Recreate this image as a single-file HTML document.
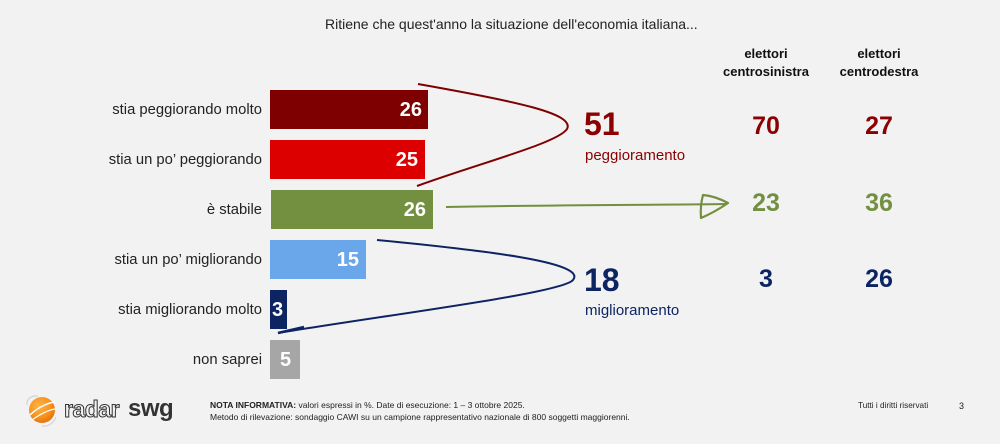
<!DOCTYPE html>
<html>
<head>
<meta charset="utf-8">
<style>
  html,body{margin:0;padding:0;}
  body{width:1000px;height:444px;background:#f2f2f2;position:relative;overflow:hidden;font-family:"Liberation Sans",Arial,sans-serif;color:#222;}
  .abs{position:absolute;}
  .title{left:325px;top:16px;font-size:14px;color:#222;white-space:nowrap;}
  .cat{right:738px;font-size:14.8px;color:#222;white-space:nowrap;line-height:16px;}
  .bar{position:absolute;height:39px;}
  .bl{position:absolute;top:0;height:39px;line-height:40px;color:#fff;font-weight:bold;font-size:20px;}
  .hdr{font-weight:bold;font-size:13px;color:#111;text-align:center;line-height:18px;width:140px;}
  .big{font-weight:bold;font-size:32px;line-height:32px;}
  .sub{font-size:15px;line-height:16px;}
  .num{font-weight:bold;font-size:25px;line-height:26px;width:80px;text-align:center;}
  .foot{font-size:8.5px;color:#222;line-height:12px;white-space:nowrap;}
</style>
</head>
<body>
<div class="abs title">Ritiene che quest'anno la situazione dell'economia italiana...</div>

<!-- category labels -->
<div class="abs cat" style="top:102px;">stia peggiorando molto</div>
<div class="abs cat" style="top:152px;">stia un po’ peggiorando</div>
<div class="abs cat" style="top:202px;">è stabile</div>
<div class="abs cat" style="top:252px;">stia un po’ migliorando</div>
<div class="abs cat" style="top:302px;">stia migliorando molto</div>
<div class="abs cat" style="top:352px;">non saprei</div>

<!-- bars -->
<div class="bar" style="left:270px;top:90px;width:158px;background:#7f0000;"><span class="bl" style="right:6px;">26</span></div>
<div class="bar" style="left:270px;top:140px;width:155px;background:#dd0000;"><span class="bl" style="right:7px;">25</span></div>
<div class="bar" style="left:271px;top:190px;width:162px;background:#739040;"><span class="bl" style="right:7px;">26</span></div>
<div class="bar" style="left:270px;top:240px;width:96px;background:#6aa6ea;"><span class="bl" style="right:7px;">15</span></div>
<div class="bar" style="left:270px;top:290px;width:17px;background:#0d2463;"><span class="bl" style="left:2px;">3</span></div>
<div class="bar" style="left:270px;top:340px;width:30px;background:#a6a6a6;"><span class="bl" style="left:10px;">5</span></div>

<svg class="abs" style="left:0;top:0;" width="1000" height="444" viewBox="0 0 1000 444">
  <path d="M418,84 C520,102 575,114 567,129 C558,143 480,163 417,186" fill="none" stroke="#7f0000" stroke-width="2"/>
  <path d="M377,240 C480,250 588,262 573,280 C562,293 400,313 278,333" fill="none" stroke="#0d2463" stroke-width="2"/>
  <path d="M278,333 L304,327" fill="none" stroke="#0d2463" stroke-width="2.5"/>
  <path d="M446,207 C550,205 650,205 727,204" fill="none" stroke="#739040" stroke-width="2"/>
  <path d="M703,195 Q715,196 728,203 Q715,212 701,218 Q700,206 703,195 Z" fill="none" stroke="#739040" stroke-width="2.2" stroke-linejoin="round"/>
</svg>

<!-- big totals -->
<div class="abs big" style="left:584px;top:108px;color:#8b0000;">51</div>
<div class="abs sub" style="left:585px;top:148px;color:#8b0000;">peggioramento</div>
<div class="abs big" style="left:584px;top:264px;color:#0d2463;">18</div>
<div class="abs sub" style="left:585px;top:303px;color:#0d2463;">miglioramento</div>

<!-- column headers -->
<div class="abs hdr" style="left:696px;top:45px;">elettori<br>centrosinistra</div>
<div class="abs hdr" style="left:809px;top:45px;">elettori<br>centrodestra</div>

<!-- column numbers -->
<div class="abs num" style="left:726px;top:113px;color:#8b0000;">70</div>
<div class="abs num" style="left:839px;top:113px;color:#8b0000;">27</div>
<div class="abs num" style="left:726px;top:190px;color:#739040;">23</div>
<div class="abs num" style="left:839px;top:190px;color:#739040;">36</div>
<div class="abs num" style="left:726px;top:266px;color:#0d2463;">3</div>
<div class="abs num" style="left:839px;top:266px;color:#0d2463;">26</div>

<!-- logo -->
<svg class="abs" style="left:24px;top:393px;" width="36" height="36" viewBox="0 0 36 36">
  <defs>
    <radialGradient id="g" cx="0.4" cy="0.35" r="0.7">
      <stop offset="0" stop-color="#ffb347"/>
      <stop offset="0.6" stop-color="#f7931e"/>
      <stop offset="1" stop-color="#e0700a"/>
    </radialGradient>
  </defs>
  <circle cx="18" cy="17" r="13" fill="url(#g)"/>
  <path d="M6,22 C12,16 22,10 31,9" fill="none" stroke="#fff" stroke-width="1.5"/>
  <path d="M8,27 C15,22 24,17 31,16" fill="none" stroke="#fff" stroke-width="1.2"/>
  <path d="M3,12 C2,6 8,2 14,3" fill="none" stroke="#ccc" stroke-width="1"/>
  <path d="M32,24 C30,30 24,34 18,33" fill="none" stroke="#ccc" stroke-width="1"/>
</svg>
<div class="abs" style="left:64px;top:396px;font-size:23px;font-weight:bold;color:#f2f2f2;-webkit-text-stroke:1px #333;letter-spacing:-0.5px;">radar</div>
<div class="abs" style="left:128px;top:395px;font-size:24px;font-weight:bold;color:#333;letter-spacing:-0.5px;">swg</div>

<!-- footer -->
<div class="abs foot" style="left:210px;top:399px;"><b>NOTA INFORMATIVA:</b> valori espressi in %. Date di esecuzione: 1 – 3 ottobre 2025.</div>
<div class="abs foot" style="left:210px;top:411px;">Metodo di rilevazione: sondaggio CAWI su un campione rappresentativo nazionale di 800 soggetti maggiorenni.</div>
<div class="abs foot" style="left:858px;top:400px;font-size:8.2px;">Tutti i diritti riservati</div>
<div class="abs" style="left:959px;top:401px;font-size:9px;color:#222;">3</div>
</body>
</html>
